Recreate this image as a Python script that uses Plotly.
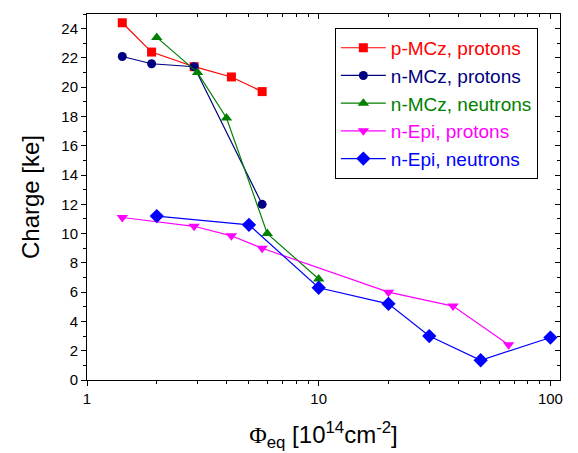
import plotly.graph_objects as go
import numpy as np

# ---- data ----
pmcz_p_x = [1.42, 1.9, 2.9, 4.2, 5.7]
pmcz_p_y = [24.4, 22.4, 21.4, 20.7, 19.7]

nmcz_p_x = [1.42, 1.9, 2.9, 5.7]
nmcz_p_y = [22.1, 21.6, 21.4, 12.0]

nmcz_n_x = [2, 3, 4, 6, 10]
nmcz_n_y = [23.4, 21.0, 17.9, 10.0, 6.9]

nepi_p_x = [1.42, 2.9, 4.2, 5.7, 20, 38, 66]
nepi_p_y = [11.1, 10.5, 9.85, 9.0, 6.0, 5.05, 2.4]

nepi_n_x = [2, 5, 10, 20, 30, 50, 100]
nepi_n_y = [11.2, 10.6, 6.3, 5.2, 3.0, 1.35, 2.9]

x_major = [1, 10, 100]
x_major_text = ["1", "10", "100"]
x_minor = [2, 3, 4, 5, 6, 7, 8, 9, 20, 30, 40, 50, 60, 70, 80, 90]
y_major = list(range(0, 25, 2))

series = [
    ("p-MCz, protons", pmcz_p_x, pmcz_p_y, "#FF0000", "square", 9),
    ("n-MCz, protons", nmcz_p_x, nmcz_p_y, "#000080", "circle", 9),
    ("n-MCz, neutrons", nmcz_n_x, nmcz_n_y, "#008000", "triangle-up", 10),
    ("n-Epi, protons", nepi_p_x, nepi_p_y, "#FF00FF", "triangle-down", 10),
    ("n-Epi, neutrons", nepi_n_x, nepi_n_y, "#0000FF", "diamond", 11),
]

FONT = "Liberation Sans, Arial, sans-serif"

fig = go.Figure()
for name, xs, ys, col, sym, sz in series:
    fig.add_trace(go.Scatter(
        x=xs, y=ys, mode="lines+markers",
        name=f"<span style='color:{col}'>{name}</span>",
        line=dict(color=col, width=1.2),
        marker=dict(color=col, symbol=sym, size=sz, line=dict(width=0)),
    ))

# empty helper traces so the mirrored (top / right) frame axes get drawn
fig.add_trace(go.Scatter(x=[None], y=[None], xaxis="x2", yaxis="y",
                         showlegend=False, hoverinfo="skip", mode="markers"))
fig.add_trace(go.Scatter(x=[None], y=[None], xaxis="x", yaxis="y2",
                         showlegend=False, hoverinfo="skip", mode="markers"))

xr = [0, np.log10(110)]
yr = [0, 25]

fig.update_layout(
    width=578, height=453,
    margin=dict(l=87, r=18, t=14, b=73),
    paper_bgcolor="white", plot_bgcolor="white",
    font=dict(family=FONT, size=15, color="black"),
    showlegend=True,
    legend=dict(
        x=0.524, y=0.962, xanchor="left", yanchor="top",
        bgcolor="white", bordercolor="black", borderwidth=1,
        font=dict(family=FONT, size=19),
        itemwidth=45,
        tracegroupgap=0,
    ),
    xaxis=dict(
        type="log", range=xr, showgrid=False, zeroline=False, automargin=False,
        showline=True, linecolor="black", linewidth=1,
        ticks="outside", ticklen=5, tickcolor="black",
        tickvals=x_major, ticktext=x_major_text,
        tickfont=dict(size=15),
        minor=dict(tickvals=x_minor, ticks="outside", ticklen=3, tickcolor="black"),
        title=dict(
            text="<span style=\"font-family:'Liberation Serif', serif\">Φ</span><sub>eq</sub> [10<sup>14</sup>cm<sup>-2</sup>]",
            font=dict(size=24), standoff=20,
        ),
    ),
    yaxis=dict(
        range=yr, showgrid=False, zeroline=False, automargin=False,
        showline=True, linecolor="black", linewidth=1,
        ticks="outside", ticklen=5, tickcolor="black",
        tickvals=y_major,
        tickfont=dict(size=15),
        minor=dict(dtick=1, ticks="outside", ticklen=3, tickcolor="black"),
        title=dict(text="Charge [ke]", font=dict(size=24), standoff=14),
    ),
    xaxis2=dict(
        type="log", range=xr, overlaying="x", side="top", anchor="y", automargin=False,
        showgrid=False, zeroline=False, showline=True, linecolor="black", linewidth=1,
        ticks="inside", ticklen=5, tickcolor="black", tickvals=x_major,
        showticklabels=False,
        minor=dict(tickvals=x_minor, ticks="inside", ticklen=3, tickcolor="black"),
    ),
    yaxis2=dict(
        range=yr, overlaying="y", side="right", anchor="x", automargin=False,
        showgrid=False, zeroline=False, showline=True, linecolor="black", linewidth=1,
        ticks="inside", ticklen=5, tickcolor="black", tickvals=y_major,
        showticklabels=False,
        minor=dict(dtick=1, ticks="inside", ticklen=3, tickcolor="black"),
    ),
)

fig.write_html("out.html")
